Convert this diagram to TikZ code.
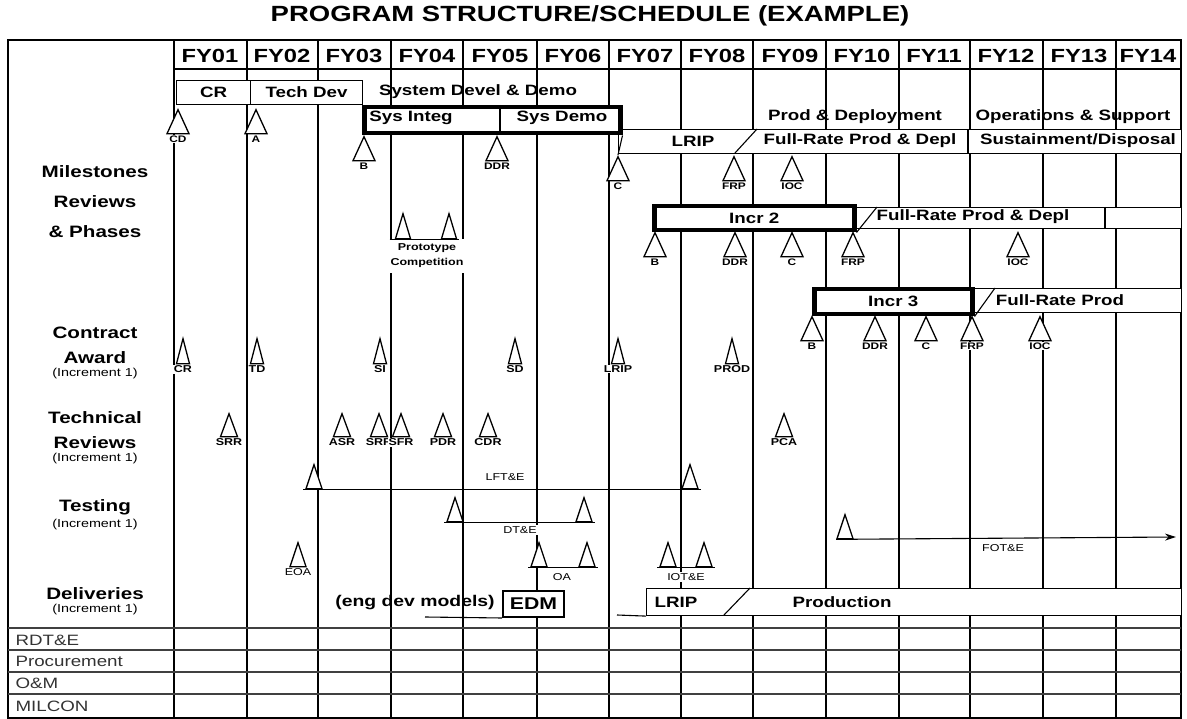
\documentclass[tikz,border=0pt]{standalone}
\usepackage{fontspec}
\setmainfont{Liberation Sans}[FakeStretch=1.25]
\usepackage{tikz}
\usetikzlibrary{shapes.geometric, arrows.meta, positioning, calc}

\begin{document}
\begin{tikzpicture}[
    x=1pt, y=-1pt,
    gridline/.style={line width=1.1pt},
    baseline/.style={line width=1.4pt, shorten <=-2pt, shorten >=-2pt},
    heavyline/.style={line width=2.8pt},
    fundline/.style={line width=2pt, black!75},
    fy/.style={font=\fontsize{19}{19}\selectfont\bfseries},
    rowlab/.style={font=\fontsize{16.5}{25}\selectfont\bfseries, align=center, inner sep=2pt},
    incnote/.style={font=\fontsize{11.5}{12}\selectfont, inner sep=1pt},
    phase/.style={font=\fontsize{15}{16}\selectfont\bfseries, inner sep=1pt},
    cell/.style={draw, line width=1.1pt, fill=white, inner sep=0pt},
    hibox/.style={draw, line width=4.5pt, fill=white, inner sep=0pt},
    mstone/.style={isosceles triangle, shape border rotate=90, isosceles triangle stretches,
        draw, line width=1.3pt, fill=white, inner sep=0pt, minimum width=22pt, minimum height=24pt, anchor=apex},
    catri/.style={mstone, minimum width=13pt, minimum height=25pt},
    trtri/.style={mstone, minimum width=17pt, minimum height=23pt},
    tstri/.style={mstone, minimum width=16pt, minimum height=24pt},
    mslab/.style={font=\fontsize{9.5}{10}\selectfont\bfseries, inner sep=1pt, fill=white},
    calab/.style={font=\fontsize{10}{10}\selectfont\bfseries, inner sep=1pt, fill=white},
    tstlab/.style={font=\fontsize{10}{10}\selectfont, inner sep=1pt, fill=white},
    fund/.style={font=\fontsize{15}{15}\selectfont, anchor=west, black!80}
]
    \useasboundingbox (0,0) rectangle (1187,719);
    \node[font=\fontsize{22}{22}\selectfont\bfseries] (title) at (590,16) {PROGRAM STRUCTURE/SCHEDULE (EXAMPLE)};

    % grid
    \foreach \x in {247,318,463,537,609,681,753,826,899,970,1043,1116}
        \draw[gridline] (\x,40) -- (\x,718);
    \draw[gridline] (391,40) -- (391,104);
    \draw[heavyline] (391,104) -- (391,718);
    \draw[gridline] (174,40) -- (174,718);
    \draw[gridline] (174,69) -- (1181,69);
    \draw[line width=1.8pt] (8,40) rectangle (1181,718);

    \foreach \n/\x in {01/210,02/282,03/354,04/427,05/500,06/573,07/645,08/717,09/790,10/862,11/934,12/1006,13/1079,14/1148}
        \node[fy] (fy\n) at (\x,56) {FY\n};

    % row labels
    \node[rowlab, font=\fontsize{16.5}{30}\selectfont\bfseries] (mrp) at (95,202) {Milestones\\Reviews\\\& Phases};
    \node[rowlab] (award) at (95,345) {Contract\\Award};
    \node[incnote, below=1pt of award] (awardInc) {(Increment 1)};
    \node[rowlab] (techrev) at (95,430) {Technical\\Reviews};
    \node[incnote, below=1pt of techrev] (techInc) {(Increment 1)};
    \node[rowlab] (testing) at (95,507) {Testing};
    \node[incnote, below=1pt of testing] (testInc) {(Increment 1)};
    \node[rowlab] (deliv) at (95,594) {Deliveries};
    \node[incnote, below=1pt of deliv] (delivInc) {(Increment 1)};

    % phases, increment 1
    \node[cell, phase, minimum width=74, minimum height=24, anchor=north west] (cr) at (176,80) {CR};
    \node[cell, phase, minimum width=112, minimum height=24, anchor=north west] (techdev) at (250,80) {Tech Dev};
    \node[phase] (sdd) at (478,92) {System Devel \& Demo};
    \node[phase] (proddep) at (855,117) {Prod \& Deployment};
    \node[phase] (opsup) at (1073,117) {Operations \& Support};

    \node[cell, minimum width=563, minimum height=24, anchor=north west] (lriprow) at (618,129) {};
    \draw[gridline] (735,153) -- (757,129);
    \draw[gridline] (968,129) -- (968,153);
    \node[phase] (lrip1) at (693,141) {LRIP};
    \node[phase] (frpd1) at (860,141) {Full-Rate Prod \& Depl};
    \node[phase] (sustain) at (1078,141) {Sustainment/Disposal};

    \node[hibox, minimum width=256, minimum height=26, anchor=north west] (sysbox) at (362,105) {};
    \draw[gridline] (500,105) -- (500,131);
    \node[phase] (sysint) at (411,118) {Sys Integ};
    \node[phase] (sysdemo) at (562,118) {Sys Demo};

    \foreach \nm/\x/\y in {CD/178/108, A/256/108, B/364/135, DDR/497/135, C/618/155, FRP/734/155, IOC/792/155}
        \node[mstone, label={[mslab]below:\nm}] (m1-\nm) at (\x,\y) {};
    \draw[gridline] (sysbox.south east) -- (m1-C.apex);

    % prototype competition
    \node[font=\fontsize{10}{15}\selectfont\bfseries, align=center, fill=white, minimum width=86, minimum height=34, inner sep=1pt] (proto) at (427,256) {Prototype\\Competition};
    \node[tstri, minimum width=15pt, minimum height=25pt] (protoA) at (403,212) {};
    \node[tstri, minimum width=15pt, minimum height=25pt] (protoB) at (449,212) {};
    \draw[baseline, shorten <=-5pt] (protoA.left corner) -- (protoB.right corner);

    % increment 2
    \node[cell, minimum width=329, minimum height=21, anchor=north west] (frpd2row) at (852,207) {};
    \node[hibox, phase, minimum width=200, minimum height=24, anchor=north west] (incr2) at (652,204) {Incr 2};
    \draw[gridline] (incr2.south east) -- (877,207);
    \draw[gridline] (1105,207) -- (1105,228);
    \node[phase] (frpd2) at (973,217) {Full-Rate Prod \& Depl};
    \foreach \nm/\x in {B/655, DDR/735, C/792, FRP/853, IOC/1018}
        \node[mstone, label={[mslab]below:\nm}] (m2-\nm) at (\x,231) {};

    % increment 3
    \node[cell, minimum width=211, minimum height=24, anchor=north west] (frp3row) at (970,288) {};
    \node[hibox, phase, minimum width=158, minimum height=25, anchor=north west] (incr3) at (812,287) {Incr 3};
    \draw[gridline] (incr3.south east) -- (995,288);
    \node[phase] (frp3) at (1060,300) {Full-Rate Prod};
    \foreach \nm/\x in {B/812, DDR/875, C/926, FRP/972, IOC/1040}
        \node[mstone, label={[mslab]below:\nm}] (m3-\nm) at (\x,315) {};

    % contract award
    \foreach \nm/\x in {CR/183, TD/257, SI/380, SD/515, LRIP/618, PROD/732}
        \node[catri, label={[calab]below:\nm}] (ca-\nm) at (\x,337) {};

    % technical reviews
    \foreach \id/\nm/\x in {srrA/SRR/229, asr/ASR/342, srrB/SRR/379, sfr/SFR/401, pdr/PDR/443, cdr/CDR/488, pca/PCA/784}
        \node[trtri, label={[calab]below:\nm}] (tr-\id) at (\x,412) {};

    % testing
    \node[tstlab] (lfte) at (505,477) {LFT\&E};
    \node[tstri] (lfteA) at (314,463) {};
    \node[tstri] (lfteB) at (690,463) {};
    \draw[baseline] (lfteA.left corner) -- (lfteB.right corner);

    \node[tstlab] (dte) at (520,530) {DT\&E};
    \node[tstri] (dteA) at (455,496) {};
    \node[tstri] (dteB) at (584,496) {};
    \draw[baseline] (dteA.left corner) -- (dteB.right corner);

    \node[tstri, label={[tstlab]below:EOA}] (eoa) at (298,541) {};

    \node[tstlab] (oa) at (562,577) {OA};
    \node[tstri] (oaA) at (539,541) {};
    \node[tstri] (oaB) at (587,541) {};
    \draw[baseline] (oaA.left corner) -- (oaB.right corner);

    \node[tstlab] (iote) at (686,577) {IOT\&E};
    \node[tstri] (ioteA) at (668,541) {};
    \node[tstri] (ioteB) at (704,541) {};
    \draw[baseline] (ioteA.left corner) -- (ioteB.right corner);

    \node[tstlab] (fote) at (1003,548) {FOT\&E};
    \node[tstri] (foteA) at (845,513) {};
    \coordinate (foteEnd) at (1176,537);
    \draw[gridline, -{Stealth[length=11pt, width=7pt]}] (foteA.left corner) -- (foteEnd);

    % deliveries
    \node[font=\fontsize{15.5}{16}\selectfont\bfseries, inner sep=1pt] (engdev) at (415,603) {(eng dev models)};
    \node[cell, phase, line width=2pt, font=\fontsize{17}{17}\selectfont\bfseries, minimum width=61, minimum height=26, anchor=north west] (edm) at (502,590) {EDM};
    \coordinate (edmTail) at (425,617);
    \draw[gridline] (edmTail) -- (edm.south west);

    \node[cell, minimum width=535, minimum height=27, anchor=north west] (prodrow) at (646,588) {};
    \coordinate (prodTail) at (617,615);
    \draw[gridline] (prodTail) -- (prodrow.south west);
    \draw[gridline] (724,615) -- (750,588);
    \node[phase] (lripD) at (676,602) {LRIP};
    \node[phase] (production) at (842,602) {Production};

    % funding rows
    \draw[fundline] (8,628) -- (1181,628);
    \foreach \y in {650,672,694}
        \draw[fundline] (8,\y) -- (1181,\y);
    \foreach \id/\nm/\y in {rdte/RDT\&E/640, proc/Procurement/661, om/O\&M/683, milcon/MILCON/706}
        \node[fund] (fund-\id) at (12,\y) {\nm};
\end{tikzpicture}
\end{document}
